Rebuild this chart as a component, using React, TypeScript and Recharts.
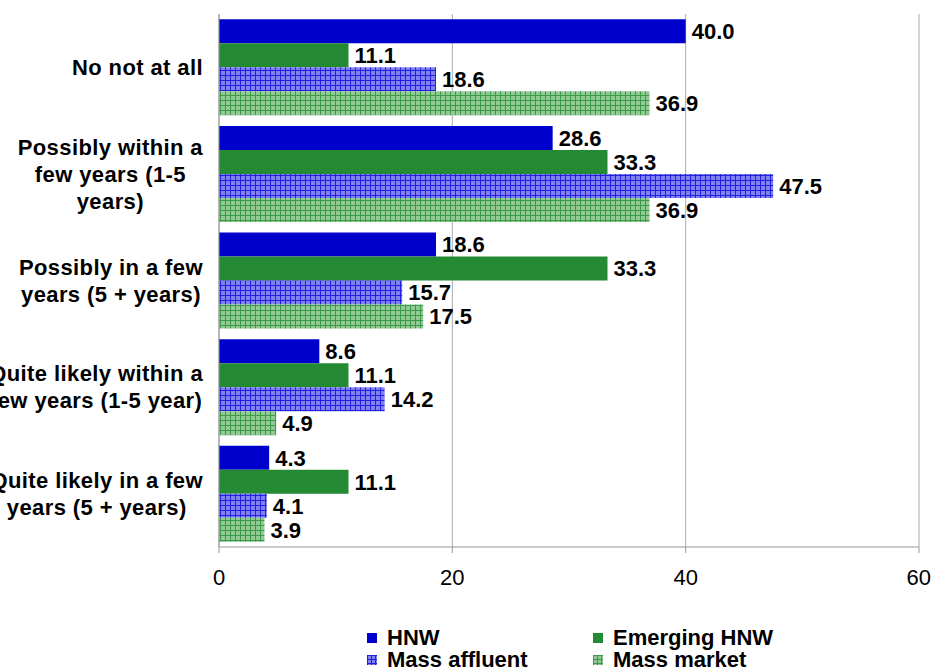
import React from 'react';
import {
  BarChart,
  Bar,
  XAxis,
  YAxis,
  CartesianGrid,
  LabelList,
} from 'recharts';

const categories = [
  'No not at all',
  'Possibly within a\nfew years (1-5\nyears)',
  'Possibly in a few\nyears (5 + years)',
  'Quite likely within a\nfew years (1-5 year)',
  'Quite likely in a few\nyears (5 + years)',
];

const hnw = [40.0, 28.6, 18.6, 8.6, 4.3];
const emergingHnw = [11.1, 33.3, 33.3, 11.1, 11.1];
const massAffluent = [18.6, 47.5, 15.7, 14.2, 4.1];
const massMarket = [36.9, 36.9, 17.5, 4.9, 3.9];

const xTicks = [0, 20, 40, 60];
const edgeTicks = [0, 1, 2, 3, 4, 5];

const data = categories.map((name, i) => ({
  name,
  hnw: hnw[i],
  emerging: emergingHnw[i],
  affluent: massAffluent[i],
  market: massMarket[i],
}));

const FONT = '"Liberation Sans", Arial, sans-serif';
const SPACING = 0.4;

let measureCtx: CanvasRenderingContext2D | null = null;
const textWidth = (s: string) => {
  if (!measureCtx) {
    measureCtx = document.createElement('canvas').getContext('2d');
  }
  if (!measureCtx) return s.length * 12;
  measureCtx.font = `bold 22px ${FONT}`;
  return measureCtx.measureText(s).width + s.length * SPACING;
};

const CategoryTick = ({ x, y, payload }: { x?: number; y?: number; payload?: { value: string } }) => {
  const lines = String(payload?.value ?? '').split('\n');
  const block = Math.max(...lines.map(textWidth));
  const cx = (x ?? 0) - block / 2;
  const lh = 27;
  const top = (y ?? 0) - ((lines.length - 1) * lh) / 2;
  return (
    <text
      textAnchor="middle"
      fontFamily={FONT}
      fontWeight="bold"
      fontSize={22}
      letterSpacing={SPACING}
      fill="#000"
    >
      {lines.map((l, i) => (
        <tspan key={i} x={cx} y={top + i * lh} dy="0.35em">
          {l}
        </tspan>
      ))}
    </text>
  );
};

const fmt = (v: unknown) => Number(v).toFixed(1);

const labelStyle = { fontFamily: FONT, fontWeight: 'bold', fontSize: 22, fill: '#000' };

const Swatch = ({ fill }: { fill: string }) => (
  <svg width={10} height={10} style={{ marginRight: 10, flexShrink: 0 }}>
    <defs>
      <pattern id={`lg-${fill}`} width={4} height={4} patternUnits="userSpaceOnUse">
        <rect width={4} height={4} fill={fill === 'blue' ? '#8080F0' : '#92C995'} />
        <path d="M0 0.5H4M0.5 0V4" stroke={fill === 'blue' ? '#2020DD' : '#3A9A48'} strokeWidth={1} />
      </pattern>
    </defs>
    <rect width={10} height={10} fill={fill.startsWith('#') ? fill : `url(#lg-${fill})`} />
  </svg>
);

const legendItems = [
  { label: 'HNW', fill: '#0000CC', left: 367, top: 627 },
  { label: 'Emerging HNW', fill: '#248A34', left: 593, top: 627 },
  { label: 'Mass affluent', fill: 'blue', left: 367, top: 649 },
  { label: 'Mass market', fill: 'green', left: 593, top: 649 },
];

export default function App() {
  return (
    <div style={{ position: 'absolute', left: 0, top: 0, width: 931, height: 670, background: '#fff', overflow: 'hidden' }}>
      <BarChart
        width={931}
        height={670}
        data={data}
        layout="vertical"
        margin={{ top: 14, right: 12, bottom: 63, left: 0 }}
        barCategoryGap="5%"
        barGap={0}
      >
        <defs>
          <pattern id="gridBlue" width={5} height={5} patternUnits="userSpaceOnUse">
            <rect width={5} height={5} fill="#8080F0" />
            <path d="M0 0.5H5M0.5 0V5" stroke="#2020DD" strokeWidth={1} />
          </pattern>
          <pattern id="gridGreen" width={5} height={5} patternUnits="userSpaceOnUse">
            <rect width={5} height={5} fill="#92C995" />
            <path d="M0 0.5H5M0.5 0V5" stroke="#3A9A48" strokeWidth={1} />
          </pattern>
        </defs>
        <CartesianGrid horizontal={false} stroke="#AAAAAA" />
        <XAxis
          type="number"
          domain={[0, 60]}
          ticks={xTicks}
          height={60}
          axisLine={{ stroke: '#999999' }}
          tickLine={{ stroke: '#999999' }}
          tickSize={6}
          tickMargin={16}
          tick={{ fill: '#000', fontSize: 22, fontFamily: FONT }}
        />
        <YAxis
          yAxisId="edges"
          type="number"
          domain={[0, 5]}
          ticks={edgeTicks}
          width={0}
          axisLine={false}
          tickLine={{ stroke: '#999999' }}
          tickSize={6}
          tick={false}
        />
        <YAxis
          type="category"
          dataKey="name"
          width={219}
          axisLine={{ stroke: '#999999' }}
          tickLine={false}
          tickSize={0}
          tickMargin={16}
          interval={0}
          tick={<CategoryTick />}
        />
        <Bar dataKey="hnw" fill="#0000CC" isAnimationActive={false}>
          <LabelList dataKey="hnw" position="right" offset={6} formatter={fmt} style={labelStyle} />
        </Bar>
        <Bar dataKey="emerging" fill="#248A34" isAnimationActive={false}>
          <LabelList dataKey="emerging" position="right" offset={6} formatter={fmt} style={labelStyle} />
        </Bar>
        <Bar dataKey="affluent" fill="url(#gridBlue)" isAnimationActive={false}>
          <LabelList dataKey="affluent" position="right" offset={6} formatter={fmt} style={labelStyle} />
        </Bar>
        <Bar dataKey="market" fill="url(#gridGreen)" isAnimationActive={false}>
          <LabelList dataKey="market" position="right" offset={6} formatter={fmt} style={labelStyle} />
        </Bar>
      </BarChart>
      {legendItems.map((it) => (
        <div
          key={it.label}
          style={{
            position: 'absolute',
            left: it.left,
            top: it.top,
            height: 22,
            display: 'flex',
            alignItems: 'center',
            fontFamily: FONT,
            fontWeight: 'bold',
            fontSize: 22,
            lineHeight: '22px',
            whiteSpace: 'nowrap',
          }}
        >
          <Swatch fill={it.fill} />
          {it.label}
        </div>
      ))}
    </div>
  );
}
